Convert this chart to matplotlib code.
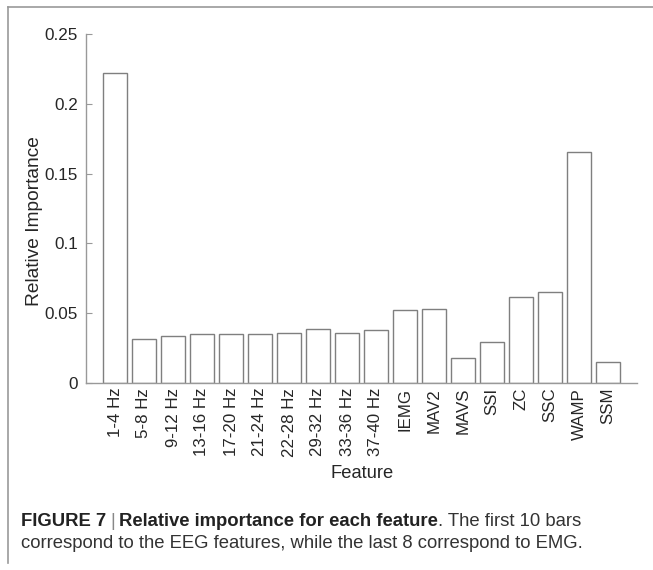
import matplotlib
matplotlib.use("Agg")
import matplotlib.pyplot as plt
from matplotlib.lines import Line2D

features = ["1-4 Hz", "5-8 Hz", "9-12 Hz", "13-16 Hz", "17-20 Hz", "21-24 Hz",
            "22-28 Hz", "29-32 Hz", "33-36 Hz", "37-40 Hz", "IEMG", "MAV2",
            "MAVS", "SSI", "ZC", "SSC", "WAMP", "SSM"]
importance = [0.2222, 0.0313, 0.0339, 0.0349, 0.0349, 0.0349,
              0.0359, 0.0385, 0.0359, 0.0380, 0.0521, 0.0533,
              0.0182, 0.0294, 0.0617, 0.0655, 0.1655, 0.0148]
yticks = [0, 0.05, 0.1, 0.15, 0.2, 0.25]
yticklabels = ["0", "0.05", "0.1", "0.15", "0.2", "0.25"]

plt.rcParams['font.family'] = ['Liberation Sans', 'DejaVu Sans']

W, H = 653, 570
fig = plt.figure(figsize=(W / 100, H / 100), dpi=100)
fig.patch.set_facecolor("white")

ax = fig.add_axes([86 / W, (H - 383) / H, (637 - 86) / W, (383 - 34) / H])
positions = list(range(1, len(features) + 1))
ax.bar(positions, importance, width=0.8, facecolor="white",
       edgecolor="#7f7f7f", linewidth=1.0)

ax.set_xlim(0, 19)
ax.set_ylim(0, 0.25)
ax.set_xticks(positions)
ax.set_xticklabels(features, rotation=90, fontsize=12.2, color="#262626")
ax.set_yticks(yticks)
ax.set_yticklabels(yticklabels, fontsize=12.3, color="#262626")
ax.tick_params(axis="x", length=0, pad=3.5)
ax.tick_params(axis="y", direction="in", length=4, width=0.8, color="#999999", pad=6)
for s in ["top", "right"]:
    ax.spines[s].set_visible(False)
for s in ["left", "bottom"]:
    ax.spines[s].set_color("#999999")
    ax.spines[s].set_linewidth(1.0)

fig.text(35 / W, 1 - 221 / H, "Relative Importance", rotation=90, fontsize=13.8,
         color="#262626", ha="center", va="center")
fig.text(362 / W, 1 - 473 / H, "Feature", fontsize=13.2, color="#262626",
         ha="center", va="center")

# frame lines
fig.add_artist(Line2D([8 / W, 1.0], [1 - 7 / H, 1 - 7 / H], transform=fig.transFigure,
                      color="#999999", linewidth=1.2))
fig.add_artist(Line2D([8 / W, 8 / W], [1 - 7 / H, 1 - 563 / H], transform=fig.transFigure,
                      color="#999999", linewidth=1.2))

# caption
cs = 13.3
y1 = 1 - 521 / H
t1 = fig.text(21 / W, y1, "FIGURE 7", fontsize=cs, fontweight="bold",
              color="#222222", ha="left", va="center")
fig.canvas.draw()
r = fig.canvas.get_renderer()
bb = t1.get_window_extent(r)
x = bb.x1 + 4
t2 = fig.text(x / W, y1, "|", fontsize=cs, color="#888888", ha="left", va="center")
bb = t2.get_window_extent(r)
x = bb.x1 + 4
t3 = fig.text(x / W, y1, "Relative importance for each feature", fontsize=cs,
              fontweight="bold", color="#222222", ha="left", va="center")
bb = t3.get_window_extent(r)
fig.text(bb.x1 / W, y1, ". The first 10 bars", fontsize=cs,
         color="#333333", ha="left", va="center")
fig.text(21 / W, 1 - 543 / H,
         "correspond to the EEG features, while the last 8 correspond to EMG.",
         fontsize=cs, color="#333333", ha="left", va="center")

fig.savefig("out.png", dpi=100, facecolor="white")
